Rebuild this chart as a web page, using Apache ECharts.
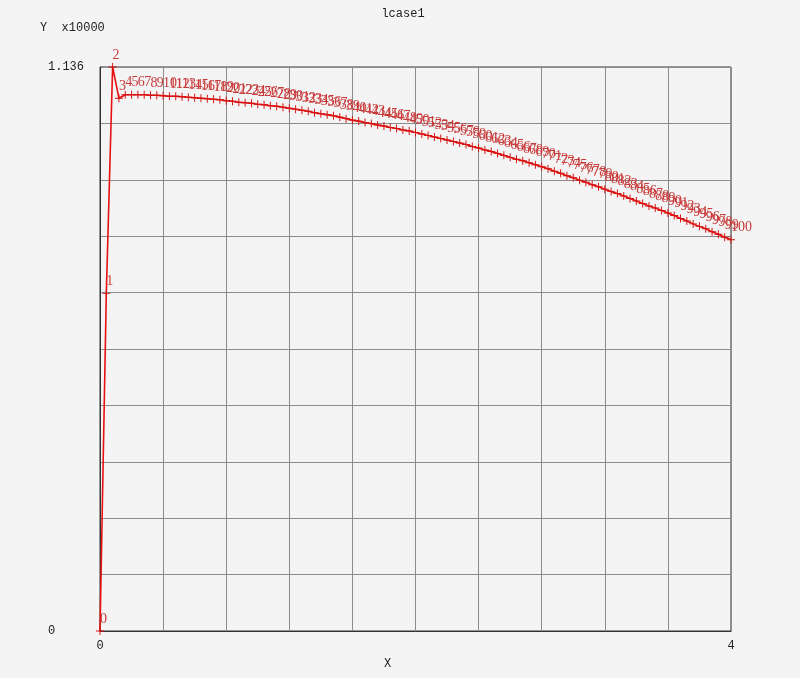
<!DOCTYPE html>
<html>
<head>
<meta charset="utf-8">
<script src="https://cdn.jsdelivr.net/npm/echarts@6/dist/echarts.min.js"></script>
<style>
  html, body { margin: 0; padding: 0; background: #f4f4f4; }
  #main { width: 800px; height: 678px; }
</style>
</head>
<body>
<div id="main"></div>
<script>
// x of each step (step i -> displacement)
const xSteps = [
  0.00, 0.04, 0.08, 0.12, 0.16, 0.20, 0.24, 0.28, 0.32, 0.36,
  0.40, 0.44, 0.48, 0.52, 0.56, 0.60, 0.64, 0.68, 0.72, 0.76,
  0.80, 0.84, 0.88, 0.92, 0.96, 1.00, 1.04, 1.08, 1.12, 1.16,
  1.20, 1.24, 1.28, 1.32, 1.36, 1.40, 1.44, 1.48, 1.52, 1.56,
  1.60, 1.64, 1.68, 1.72, 1.76, 1.80, 1.84, 1.88, 1.92, 1.96,
  2.00, 2.04, 2.08, 2.12, 2.16, 2.20, 2.24, 2.28, 2.32, 2.36,
  2.40, 2.44, 2.48, 2.52, 2.56, 2.60, 2.64, 2.68, 2.72, 2.76,
  2.80, 2.84, 2.88, 2.92, 2.96, 3.00, 3.04, 3.08, 3.12, 3.16,
  3.20, 3.24, 3.28, 3.32, 3.36, 3.40, 3.44, 3.48, 3.52, 3.56,
  3.60, 3.64, 3.68, 3.72, 3.76, 3.80, 3.84, 3.88, 3.92, 3.96,
  4.00
];
// y (x10000)
const yValues = [
  0.000, 0.680, 1.136, 1.073, 1.080, 1.080, 1.080, 1.080, 1.079, 1.079,
  1.078, 1.077, 1.077, 1.076, 1.075, 1.074, 1.073, 1.072, 1.071, 1.070,
  1.068, 1.067, 1.065, 1.064, 1.063, 1.061, 1.060, 1.058, 1.057, 1.055,
  1.053, 1.051, 1.049, 1.047, 1.044, 1.042, 1.040, 1.038, 1.035, 1.032,
  1.029, 1.027, 1.024, 1.022, 1.019, 1.017, 1.014, 1.012, 1.009, 1.007,
  1.004, 1.001, 0.998, 0.995, 0.992, 0.989, 0.986, 0.983, 0.980, 0.976,
  0.973, 0.969, 0.966, 0.962, 0.958, 0.954, 0.950, 0.947, 0.943, 0.939,
  0.935, 0.931, 0.926, 0.922, 0.917, 0.913, 0.908, 0.904, 0.899, 0.895,
  0.890, 0.885, 0.881, 0.876, 0.871, 0.866, 0.861, 0.856, 0.852, 0.847,
  0.842, 0.837, 0.831, 0.826, 0.820, 0.815, 0.810, 0.804, 0.799, 0.793,
  0.788
];
const xTickLabels = ['0', '4'];
const yTickLabels = ['0', '1.136'];

const chart = echarts.init(document.getElementById('main'));

let points = xSteps.map((x, i) => [x, yValues[i]]);

const option = {
  backgroundColor: '#f4f4f4',
  animation: false,
  title: {
    text: 'lcase1',
    left: 398, top: 3,
    textAlign: 'center',
    textStyle: { fontFamily: 'Liberation Mono', fontSize: 12, fontWeight: 'normal', color: '#222' }
  },
  graphic: [
    { type: 'text', left: 40, top: 22, style: { text: 'Y  x10000', font: '12px "Liberation Mono"', fill: '#222' } },
    { type: 'text', left: 384, top: 658, style: { text: 'X', font: '12px "Liberation Mono"', fill: '#222' } }
  ],
  grid: { left: 100, right: 69, top: 67, bottom: 47, show: true, borderColor: '#333', borderWidth: 1 },
  xAxis: {
    type: 'value', min: 0, max: 4, interval: 0.4,
    axisLine: { lineStyle: { color: '#333' } },
    axisTick: { show: false },
    axisLabel: {
      margin: 9, color: '#222', fontFamily: 'Liberation Mono', fontSize: 12,
      formatter: v => v === 0 ? xTickLabels[0] : (Math.abs(v - 4) < 1e-6 ? xTickLabels[1] : '')
    },
    splitLine: { lineStyle: { color: '#8c8c8c' } }
  },
  yAxis: {
    type: 'value', min: 0, max: 1.136, interval: 0.1136,
    axisLine: { show: true, lineStyle: { color: '#333' } },
    axisTick: { show: false },
    axisLabel: {
      align: 'left', margin: 52, color: '#222', fontFamily: 'Liberation Mono', fontSize: 12,
      formatter: v => v === 0 ? yTickLabels[0] : (Math.abs(v - 1.136) < 1e-6 ? yTickLabels[1] : '')
    },
    splitLine: { lineStyle: { color: '#8c8c8c' } }
  },
  series: [{
    type: 'line',
    data: points,
    symbol: 'path://M4.4,0H5.6V4.4H10V5.6H5.6V10H4.4V5.6H0V4.4H4.4Z',
    symbolSize: 8,
    showAllSymbol: true,
    lineStyle: { color: '#e81010', width: 1.6 },
    itemStyle: { color: '#d41010' },
    label: {
      show: true,
      position: 'top',
      align: 'left',
      distance: 1,
      offset: [1, 0],
      color: '#c83a3a',
      fontFamily: 'Liberation Serif',
      fontSize: 14,
      formatter: p => String(p.dataIndex)
    },
    labelLayout: { hideOverlap: false }
  }]
};
chart.setOption(option);
</script>
</body>
</html>
